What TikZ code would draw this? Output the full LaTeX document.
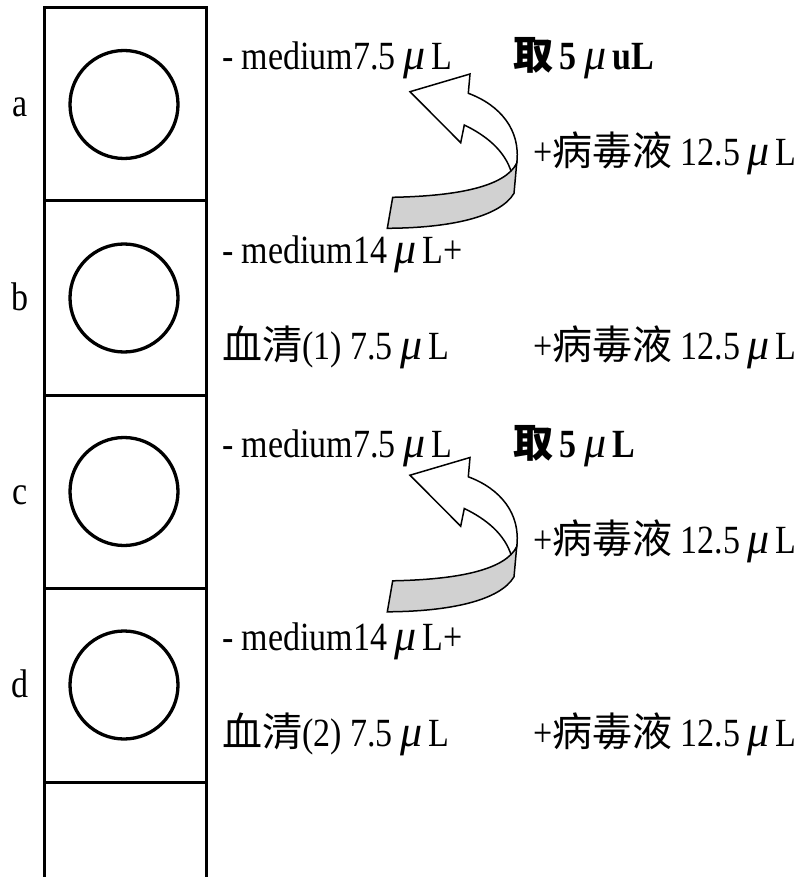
\documentclass[tikz,border=0pt]{standalone}
\usepackage{fontspec}
\setmainfont[FakeStretch=0.85]{Liberation Serif}
\newfontfamily\cjk{Noto Sans CJK TC}
\newfontfamily\mufont{Liberation Serif}
\newcommand\mul{\hspace{0.18em}{\mufont\itshape\fontsize{44}{48}\selectfont μ}\hspace{0.15em}}
\begin{document}
\begin{tikzpicture}[x=1pt,y=-1pt,
  txt/.style={anchor=base west, inner sep=0pt, font=\fontsize{40}{48}\selectfont},
  lbl/.style={anchor=base, inner sep=0pt, font=\fontsize{40}{48}\selectfont},
  frame/.style={line width=3pt},
  well/.style={circle, draw, line width=3.3pt, minimum size=108pt, inner sep=0pt},
  curlarrow/.pic={
    \draw[line width=1.5pt, fill=white, line join=miter]
      (410,91.7) -- (470,74) -- (468.3,93.3)
      .. controls (500,105) and (521,130) .. (516.7,163.3)
      -- (511.7,173.3)
      .. controls (505,150) and (485,135) .. (464.3,125)
      -- (460.7,142.7) -- cycle;
    \draw[line width=1.5pt, fill=black!18, line join=miter]
      (392.7,197.3) .. controls (460,196) and (505,186) .. (516.7,163.3)
      -- (514,193.3)
      .. controls (500,217) and (450,228) .. (387.3,228.3) -- cycle;
  }]
\useasboundingbox (0,0) rectangle (799,877);
% column of cells
\draw[frame] (44.7,880) -- (44.7,8) -- (206.7,8) -- (206.7,880);
\foreach \yy in {201,395,588,782} \draw[frame] (44.7,\yy) -- (206.7,\yy);
\node[well] (wa) at (124,104.5) {};
\node[well] (wb) at (124,298) {};
\node[well] (wc) at (124,491.5) {};
\node[well] (wd) at (124,685) {};
% row labels
\node[lbl] (la) at (20,117) {a};
\node[lbl] (lb) at (20,310.5) {b};
\node[lbl] (lc) at (20,504) {c};
\node[lbl] (ld) at (20,697.5) {d};
% row a
\node[txt] (ta1) at (222,70) {- medium7.5\mul L};
\node[txt] (ta2) at (513,70) {{\cjk\bfseries 取}\,\textbf{5}\mul\textbf{uL}};
\node[txt] (ta3) at (533,166) {+{\cjk 病毒液} 12.5\mul L};
% row b
\node[txt] (tb1) at (222,263) {- medium14\mul L+};
\node[txt] (tb2) at (222,359) {{\cjk 血清}(1) 7.5\mul L};
\node[txt] (tb3) at (533,359) {+{\cjk 病毒液} 12.5\mul L};
% row c
\node[txt] (tc1) at (222,457) {- medium7.5\mul L};
\node[txt] (tc2) at (513,457) {{\cjk\bfseries 取}\,\textbf{5}\mul\textbf{L}};
\node[txt] (tc3) at (533,553) {+{\cjk 病毒液} 12.5\mul L};
% row d
\node[txt] (td1) at (222,650) {- medium14\mul L+};
\node[txt] (td2) at (222,746) {{\cjk 血清}(2) 7.5\mul L};
\node[txt] (td3) at (533,746) {+{\cjk 病毒液} 12.5\mul L};
% curved arrows
\pic at (0,0) {curlarrow};
\pic at (0,383.5) {curlarrow};
\end{tikzpicture}
\end{document}
